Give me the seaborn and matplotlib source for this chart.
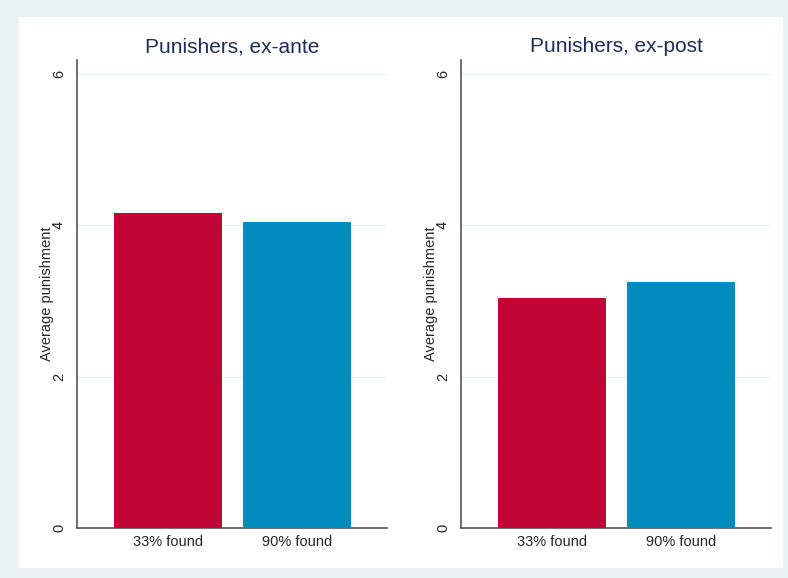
import matplotlib
matplotlib.use("Agg")
import matplotlib.pyplot as plt
import seaborn as sns
from matplotlib.patches import Rectangle

# data
categories = ["33% found", "90% found"]
ex_ante = [4.16, 4.05]
ex_post = [3.04, 3.25]
panel_titles = ["Punishers, ex-ante", "Punishers, ex-post"]
y_ticks = [0, 2, 4, 6]

bar_colors = ["#C10534", "#008BBC"]
bg_color = "#EAF2F3"
title_color = "#1E2D53"
axis_color = "#555555"

sns.set_style("white")
plt.rcParams["font.family"] = ["Liberation Sans", "DejaVu Sans"]

fig = plt.figure(figsize=(7.88, 5.78), dpi=100)
fig.patch.set_facecolor(bg_color)

# white inner panel
W, H = 788, 578
fig.patches.append(Rectangle((19 / W, 1 - 568 / H), (783 - 19) / W, (568 - 17) / H,
                             transform=fig.transFigure, facecolor="white",
                             edgecolor="none", zorder=-10))

ax_w = 310 / W
ax_b = (H - 528) / H
ax_h = 468 / H
lefts = [77 / W, 461 / W]

for left, vals, title in zip(lefts, [ex_ante, ex_post], panel_titles):
    ax = fig.add_axes([left, ax_b, ax_w, ax_h])
    ax.set_facecolor("none")
    sns.barplot(x=categories, y=vals, hue=categories, palette=bar_colors,
                width=0.837, saturation=1, legend=False, ax=ax, zorder=3,
                linewidth=0)
    ax.set_xlim(-0.705, 1.70)
    ax.set_ylim(0, 6.185)
    ax.set_yticks(y_ticks)
    ax.set_yticklabels([str(t) for t in y_ticks], rotation=90, va="center",
                       fontsize=10.5)
    ax.tick_params(axis="y", length=5, width=1, color="#333333", pad=3)
    ax.tick_params(axis="x", length=0, labelsize=10.5, pad=5)
    for t in y_ticks[1:]:
        ax.axhline(t, color=bg_color, lw=1, zorder=1)
    for side in ["top", "right"]:
        ax.spines[side].set_visible(False)
    for side in ["left", "bottom"]:
        ax.spines[side].set_color(axis_color)
        ax.spines[side].set_linewidth(1.2)
    ax.set_ylabel("Average punishment", fontsize=10.5, labelpad=-1.5)
    ax.set_xlabel("")
    ax.set_title(title, fontsize=15, color=title_color, pad=5.5)

fig.savefig("out.png", dpi=100, facecolor=fig.get_facecolor())
